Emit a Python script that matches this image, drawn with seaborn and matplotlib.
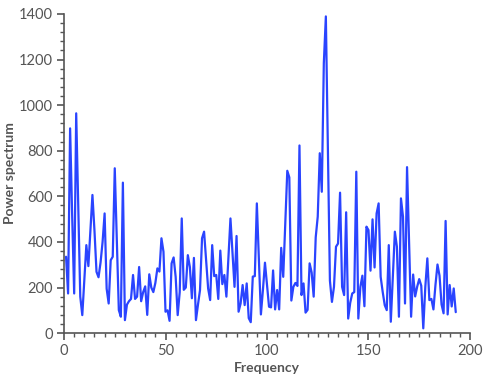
import numpy as np
import pandas as pd
import seaborn as sns
import matplotlib.pyplot as plt
from matplotlib.ticker import MultipleLocator

# power values, one per integer frequency 1..193
power = [
    335, 174, 898, 520, 174, 964, 560, 160, 79, 230,
    386, 294, 450, 606, 450, 269, 245, 310, 400, 525,
    195, 130, 320, 335, 723, 410, 101, 72, 660, 57,
    125, 140, 150, 255, 150, 160, 290, 140, 180, 205,
    80, 258, 200, 180, 220, 284, 270, 416, 357, 94,
    100, 54, 306, 332, 247, 79, 180, 503, 190, 200,
    342, 290, 153, 330, 57, 125, 189, 416, 445, 320,
    196, 145, 386, 250, 255, 150, 362, 215, 255, 160,
    330, 503, 350, 203, 426, 94, 130, 211, 123, 218,
    66, 48, 248, 250, 569, 330, 82, 190, 309, 210,
    116, 113, 275, 104, 189, 104, 374, 247, 480, 712,
    683, 143, 203, 220, 207, 823, 167, 218, 90, 102,
    306, 266, 160, 420, 511, 789, 620, 1184, 1389, 800,
    230, 137, 203, 379, 393, 616, 203, 167, 530, 64,
    133, 174, 180, 708, 64, 203, 252, 118, 467, 452,
    274, 499, 288, 525, 569, 247, 181, 123, 101, 386,
    50, 250, 445, 379, 72, 591, 511, 130, 728, 400,
    72, 257, 161, 204, 237, 208, 21, 203, 328, 145,
    150, 104, 211, 301, 252, 126, 87, 492, 82, 211,
    117, 196, 92,
]
frequency = list(range(1, len(power) + 1))

df = pd.DataFrame({"Frequency": frequency, "Power spectrum": power})

sns.set_style("ticks")
plt.rcParams["font.family"] = ["Lato", "DejaVu Sans"]

fig = plt.figure(figsize=(4.85, 3.76), dpi=100)
ax = fig.add_axes([0.132, 0.114, 0.837, 0.849])

sns.lineplot(data=df, x="Frequency", y="Power spectrum", ax=ax,
             color="#2a44ff", linewidth=1.6)

ax.set_xlim(0, 200)
ax.set_ylim(0, 1400)
ax.xaxis.set_major_locator(MultipleLocator(50))
ax.xaxis.set_minor_locator(MultipleLocator(5))
ax.yaxis.set_major_locator(MultipleLocator(200))
ax.yaxis.set_minor_locator(MultipleLocator(40))

grey = "#555555"
for side in ["top", "right"]:
    ax.spines[side].set_visible(False)
for side in ["left", "bottom"]:
    ax.spines[side].set_color(grey)
    ax.spines[side].set_linewidth(1.2)

ax.tick_params(which="major", length=5, width=1.2, color=grey,
               labelcolor=grey, labelsize=10.5, pad=3)
ax.tick_params(which="minor", length=3, width=1.0, color=grey)

ax.set_xlabel("Frequency", fontsize=10, fontweight="bold", color=grey, labelpad=3)
ax.set_ylabel("Power spectrum", fontsize=10, fontweight="bold", color=grey, labelpad=2)

fig.savefig("out.png", dpi=100)
